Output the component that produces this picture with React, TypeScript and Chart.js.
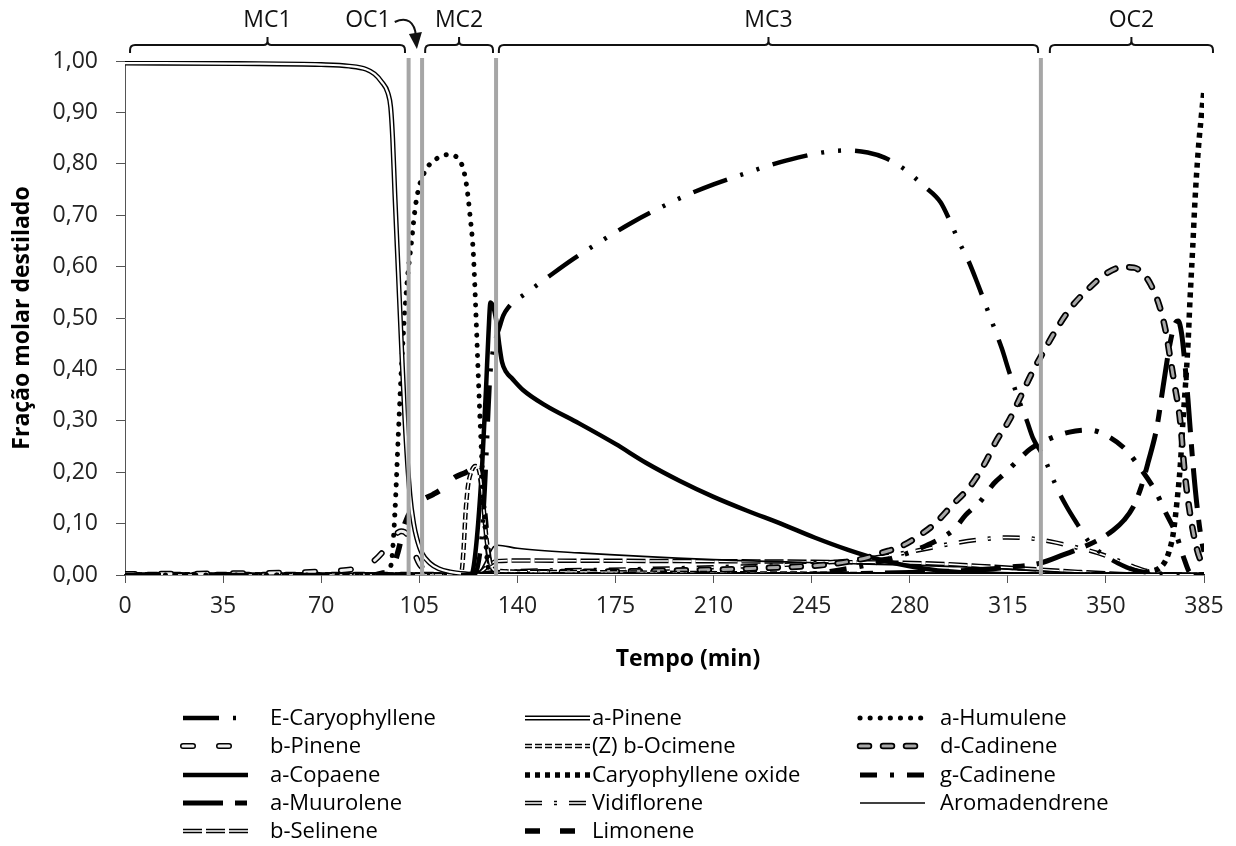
import React, { useEffect, useRef } from 'react';
import { Chart, registerables } from 'chart.js';

Chart.register(...registerables);

type Pt = [number, number];

// ---------- axes ----------
const xMin = 0;
const xMax = 385;
const xStep = 35;
const yMin = 0;
const yMax = 1;
const yStep = 0.1;

// ---------- cut boundaries (min) ----------
const cutTimes = [101.2, 106.0, 132.4, 326.8];
const bracketStart = [1.8, 107.1, 133.4, 330.0];
const bracketEnd = [99.9, 131.3, 325.8, 388.2];
const bracketLabels = ['MC1', 'MC2', 'MC3', 'OC2'];
const oc1Label = 'OC1';
const oc1LabelT = 86.7;
const oc1ArrowT = 103.8;

// ---------- series (time min, molar fraction) ----------
const eCaryophyllene: Pt[] = [[0, 0], [124.5, 0], [126, 0.02], [127.2, 0.07], [128.4, 0.17], [129.4, 0.29], [130.2, 0.38], [131.1, 0.43], [132.3, 0.46], [133.5, 0.48], [135, 0.505], [137, 0.522], [139, 0.533], [142, 0.544], [145, 0.556], [151, 0.58], [160, 0.615], [170, 0.65], [180, 0.683], [190, 0.712], [200, 0.738], [210, 0.76], [220, 0.779], [230, 0.797], [240, 0.812], [250, 0.823], [258, 0.826], [265, 0.822], [271, 0.812], [278, 0.79], [285, 0.757], [291, 0.725], [294.4, 0.688], [297.6, 0.648], [300.8, 0.613], [304, 0.57], [308, 0.512], [310.4, 0.477], [312.9, 0.44], [315.5, 0.395], [319.3, 0.335], [321.8, 0.3], [324, 0.266], [327.6, 0.232], [332.9, 0.165], [336.1, 0.132], [339.7, 0.1], [344.3, 0.062], [349, 0.04], [354.3, 0.023], [360, 0.01], [368, 0.003], [375, 0], [385, 0]];
const aPinene: Pt[] = [[0, 0.996], [40, 0.995], [70, 0.993], [80, 0.99], [86, 0.984], [89, 0.975], [91.5, 0.96], [93.8, 0.938], [94.8, 0.91], [95.5, 0.85], [96.3, 0.74], [97.5, 0.59], [98.7, 0.44], [99.9, 0.3], [101.7, 0.154], [103, 0.1], [104.1, 0.072], [106, 0.042], [108.8, 0.023], [112, 0.012], [116, 0.006], [122, 0.002], [128, 0], [385, 0]];
const aHumulene: Pt[] = [[0, 0], [93.5, 0], [94.5, 0.01], [95.3, 0.035], [96.3, 0.12], [97.5, 0.27], [98.7, 0.41], [100.5, 0.56], [102.3, 0.652], [103.5, 0.712], [104.7, 0.75], [107, 0.785], [111.2, 0.81], [115.4, 0.818], [118.9, 0.81], [120.7, 0.79], [121.9, 0.757], [123.1, 0.7], [124.3, 0.625], [125.2, 0.51], [126.1, 0.38], [127.3, 0.225], [128.5, 0.09], [129.2, 0.03], [130, 0.006], [131, 0], [385, 0]];
const bPinene: Pt[] = [[0, 0.002], [35, 0.003], [60, 0.005], [75, 0.008], [82, 0.012], [87, 0.02], [92, 0.045], [95.5, 0.072], [98.5, 0.085], [100.5, 0.08], [102, 0.06], [103.5, 0.04], [105, 0.022], [107, 0.01], [110, 0.003], [115, 0], [385, 0]];
const zOcimene: Pt[] = [[0, 0], [118, 0], [120, 0.005], [120.8, 0.05], [121.5, 0.12], [122.3, 0.17], [123.5, 0.2], [125, 0.212], [126.5, 0.2], [127.8, 0.14], [129, 0.07], [130.5, 0.02], [132.5, 0.008], [150, 0.006], [200, 0.004], [260, 0.002], [300, 0], [385, 0]];
const dCadinene: Pt[] = [[0, 0], [125, 0], [128, 0.002], [135, 0.004], [160, 0.006], [200, 0.009], [230, 0.014], [248, 0.019], [258, 0.026], [265, 0.034], [270, 0.043], [277, 0.056], [284, 0.079], [289, 0.1], [295, 0.135], [301.9, 0.175], [306.9, 0.218], [311.1, 0.263], [315.4, 0.3], [319.3, 0.344], [323.6, 0.393], [327.9, 0.436], [332.2, 0.477], [337.5, 0.52], [343.6, 0.556], [350, 0.586], [356, 0.599], [360, 0.598], [363.5, 0.585], [366, 0.565], [369.3, 0.52], [371.5, 0.47], [373, 0.42], [374.5, 0.37], [376.5, 0.3], [378, 0.205], [380, 0.12], [382.5, 0.05], [385, 0.012]];
const aCopaene: Pt[] = [[0, 0], [123.5, 0], [124.5, 0.02], [126, 0.1], [127.5, 0.22], [128.8, 0.36], [129.7, 0.47], [130.4, 0.53], [131.5, 0.52], [132.6, 0.49], [133.5, 0.45], [134.5, 0.415], [136, 0.395], [138, 0.383], [142, 0.36], [150, 0.33], [162, 0.295], [175, 0.255], [186, 0.218], [198, 0.183], [210, 0.152], [222, 0.125], [234, 0.1], [246, 0.073], [258, 0.049], [270, 0.029], [280, 0.017], [290, 0.009], [305, 0.004], [320, 0.001], [335, 0], [385, 0]];
const caryophylleneOxide: Pt[] = [[0, 0], [355, 0], [362, 0.003], [366, 0.007], [369, 0.013], [371, 0.025], [372.5, 0.045], [374, 0.08], [375.5, 0.15], [376.5, 0.21], [377.5, 0.3], [378.4, 0.37], [379.3, 0.45], [380, 0.535], [381, 0.64], [381.8, 0.73], [383, 0.83], [384, 0.89], [385, 0.945]];
const gCadinene: Pt[] = [[0, 0], [240, 0], [255, 0.01], [265, 0.02], [272, 0.03], [278, 0.04], [285, 0.055], [290, 0.068], [296, 0.09], [300, 0.117], [305, 0.142], [310, 0.178], [314, 0.198], [318, 0.22], [323, 0.245], [329, 0.263], [337, 0.278], [344, 0.282], [350, 0.272], [356.5, 0.247], [362, 0.21], [368, 0.16], [371, 0.125], [375, 0.08], [378, 0.03], [380, 0.005], [385, 0]];
const aMuurolene: Pt[] = [[0, 0], [200, 0], [250, 0.002], [280, 0.005], [300, 0.009], [315, 0.015], [326.5, 0.023], [334.7, 0.039], [340.8, 0.052], [346.5, 0.066], [352.6, 0.087], [356.5, 0.107], [359.7, 0.132], [362.5, 0.17], [365, 0.218], [368.2, 0.288], [370.4, 0.366], [372.9, 0.451], [374.6, 0.488], [375.8, 0.494], [377, 0.47], [378.2, 0.41], [379.3, 0.34], [381, 0.22], [382.8, 0.12], [384.3, 0.062], [385, 0.045]];
const vidiflorene: Pt[] = [[0, 0], [125, 0], [128, 0.003], [133, 0.006], [170, 0.01], [210, 0.015], [240, 0.021], [260, 0.029], [275, 0.04], [285, 0.05], [295, 0.061], [305, 0.069], [315, 0.073], [325, 0.07], [333, 0.062], [340, 0.053], [347, 0.043], [353, 0.031], [360, 0.016], [366, 0.006], [372, 0.001], [378, 0], [385, 0]];
const aromadendrene: Pt[] = [[0, 0], [125, 0], [127, 0.01], [129.5, 0.035], [131.5, 0.055], [133, 0.058], [140, 0.052], [162, 0.043], [210, 0.03], [260, 0.022], [298, 0.016], [320, 0.01], [340, 0.004], [360, 0.001], [370, 0], [385, 0]];
const bSelinene: Pt[] = [[0, 0], [125, 0], [127.5, 0.008], [130, 0.02], [132.5, 0.027], [140, 0.028], [200, 0.027], [260, 0.025], [290, 0.022], [310, 0.016], [325, 0.011], [340, 0.006], [355, 0.002], [365, 0], [385, 0]];
const limonene: Pt[] = [[0, 0], [88, 0], [92, 0.004], [95.3, 0.012], [97.4, 0.045], [99.9, 0.1], [102.4, 0.128], [106, 0.146], [110, 0.157], [113, 0.167], [117.7, 0.19], [121, 0.198], [124, 0.205], [126, 0.205], [127.5, 0.17], [128.7, 0.1], [129.8, 0.035], [131, 0.008], [133, 0], [385, 0]];

// ---------- styles ----------
interface SeriesStyle {
  name: string;
  data: Pt[];
  width: number;
  dash: number[];
  cap?: CanvasLineCap;
  inner?: { color: string; width: number };
}

const series: SeriesStyle[] = [
  { name: 'E-Caryophyllene', data: eCaryophyllene, width: 4.5, dash: [36, 14, 3, 14, 3, 14] },
  { name: 'a-Pinene', data: aPinene, width: 5, dash: [], inner: { color: '#ffffff', width: 2.2 } },
  { name: 'a-Humulene', data: aHumulene, width: 5, dash: [0.1, 10], cap: 'round' },
  { name: 'b-Pinene', data: bPinene, width: 6, dash: [10, 26], cap: 'round', inner: { color: '#f0f0f0', width: 3 } },
  { name: '(Z) b-Ocimene', data: zOcimene, width: 4.5, dash: [7, 3], inner: { color: '#ffffff', width: 1.6 } },
  { name: 'd-Cadinene', data: dCadinene, width: 6.5, dash: [9, 14], cap: 'round', inner: { color: '#a8a8a8', width: 3 } },
  { name: 'a-Copaene', data: aCopaene, width: 4.5, dash: [] },
  { name: 'Caryophyllene oxide', data: caryophylleneOxide, width: 5.5, dash: [5, 5] },
  { name: 'g-Cadinene', data: gCadinene, width: 5, dash: [17, 13, 4, 13] },
  { name: 'a-Muurolene', data: aMuurolene, width: 5, dash: [40, 12, 12, 12] },
  { name: 'Vidiflorene', data: vidiflorene, width: 4.5, dash: [17, 12, 3, 12], inner: { color: '#ffffff', width: 1.6 } },
  { name: 'Aromadendrene', data: aromadendrene, width: 1.6, dash: [] },
  { name: 'b-Selinene', data: bSelinene, width: 4.5, dash: [19, 4], inner: { color: '#ffffff', width: 1.6 } },
  { name: 'Limonene', data: limonene, width: 5.5, dash: [15, 20] },
];

const FONT = "'Open Sans', 'Noto Sans', sans-serif";

const fmt = (v: number) => v.toFixed(2).replace('.', ',');

const overlayPlugin = {
  id: 'overlay',
  afterDraw(chart: any) {
    const ctx: CanvasRenderingContext2D = chart.ctx;
    const xs = chart.scales.x;
    ctx.save();
    // brackets
    ctx.strokeStyle = '#111';
    ctx.lineWidth = 2;
    ctx.fillStyle = '#111';
    ctx.font = `23px ${FONT}`;
    ctx.textAlign = 'center';
    ctx.textBaseline = 'middle';
    bracketStart.forEach((a, i) => {
      const x1 = xs.getPixelForValue(a);
      const x2 = xs.getPixelForValue(bracketEnd[i]);
      const xm = (x1 + x2) / 2;
      ctx.beginPath();
      ctx.moveTo(x1, 53);
      ctx.lineTo(x1, 50);
      ctx.quadraticCurveTo(x1, 45, x1 + 5, 45);
      ctx.lineTo(xm - 4, 45);
      ctx.quadraticCurveTo(xm, 45, xm, 41);
      ctx.lineTo(xm, 37);
      ctx.moveTo(xm, 41);
      ctx.quadraticCurveTo(xm, 45, xm + 4, 45);
      ctx.lineTo(x2 - 5, 45);
      ctx.quadraticCurveTo(x2, 45, x2, 50);
      ctx.lineTo(x2, 53);
      ctx.stroke();
      ctx.fillText(bracketLabels[i], xm, 20);
    });
    // OC1 label + arrow
    const lx = xs.getPixelForValue(oc1LabelT);
    ctx.fillText(oc1Label, lx, 20);
    const w = ctx.measureText(oc1Label).width;
    const sx = lx + w / 2 + 4;
    const tx = xs.getPixelForValue(oc1ArrowT);
    ctx.beginPath();
    ctx.moveTo(sx, 22);
    ctx.bezierCurveTo(sx + 12, 16, tx - 1, 22, tx, 36);
    ctx.stroke();
    ctx.beginPath();
    ctx.moveTo(tx - 7, 34);
    ctx.lineTo(tx + 6, 32);
    ctx.lineTo(tx + 1, 49);
    ctx.closePath();
    ctx.fill();

    // x title
    ctx.font = `bold 23px ${FONT}`;
    ctx.fillStyle = '#000';
    ctx.fillText('Tempo (min)', 688, 659);

    // legend grid
    const colSym = [183, 525, 860];
    const colText = [270, 592, 940];
    const rowY = [718, 746, 775, 803, 831];
    const symLen = 65;
    ctx.font = `22px ${FONT}`;
    ctx.textAlign = 'left';
    series.forEach((s, i) => {
      const r = Math.floor(i / 3);
      const c = i % 3;
      const y = rowY[r];
      const x0 = colSym[c];
      const stroke = (color: string, width: number) => {
        ctx.save();
        ctx.beginPath();
        ctx.setLineDash(s.dash);
        ctx.lineCap = s.cap || 'butt';
        ctx.lineWidth = width;
        ctx.strokeStyle = color;
        ctx.moveTo(x0, y);
        ctx.lineTo(x0 + symLen, y);
        ctx.stroke();
        ctx.restore();
      };
      stroke('#000', s.width);
      if (s.inner) stroke(s.inner.color, s.inner.width);
      ctx.fillStyle = '#000';
      ctx.fillText(s.name, colText[c], y + 1);
    });
    ctx.restore();
  },
};

export default function App() {
  const ref = useRef<HTMLCanvasElement>(null);
  useEffect(() => {
    document.body.style.margin = '0';
    if (!ref.current) return;
    const datasets: any[] = [];
    cutTimes.forEach((t) => {
      datasets.push({
        label: '_cut',
        data: [{ x: t, y: 0 }, { x: t, y: 1.006 }],
        borderColor: '#a6a6a6',
        borderWidth: 4,
        pointRadius: 0,
        tension: 0,
        clip: false,
      });
    });
    series.forEach((s) => {
      const pts = s.data.map(([x, y]) => ({ x, y }));
      const common = {
        data: pts,
        pointRadius: 0,
        pointHoverRadius: 0,
        fill: false,
        borderDash: s.dash,
        borderCapStyle: s.cap || 'butt',
        borderJoinStyle: 'round',
        cubicInterpolationMode: 'monotone',
      };
      if (s.inner) {
        datasets.push({ ...common, label: s.name + ' (inner)', borderColor: s.inner.color, borderWidth: s.inner.width });
      }
      datasets.push({ ...common, label: s.name, borderColor: '#000', borderWidth: s.width });
    });

    const chart = new Chart(ref.current, {
      type: 'line',
      data: { datasets },
      options: {
        animation: false,
        responsive: false,
        devicePixelRatio: 1,
        events: [],
        layout: { padding: { top: 61, bottom: 171, left: 0, right: 32 } },
        plugins: { legend: { display: false }, tooltip: { enabled: false }, title: { display: false } },
        scales: {
          x: {
            type: 'linear',
            min: xMin,
            max: xMax,
            afterFit: (scale: any) => { scale.height = 100; },
            ticks: { stepSize: xStep, color: '#222', font: { family: FONT, size: 23 }, padding: 10, maxRotation: 0, autoSkip: false },
            grid: { display: true, drawOnChartArea: false, drawTicks: true, tickLength: 8, color: '#555' },
            border: { display: true, color: '#222', width: 1.5 },
          },
          y: {
            type: 'linear',
            min: yMin,
            max: yMax,
            afterFit: (scale: any) => { scale.width = 125; },
            ticks: { stepSize: yStep, color: '#222', font: { family: FONT, size: 23 }, padding: 18, callback: (v: any) => fmt(Number(v)) },
            grid: { display: true, drawOnChartArea: false, drawTicks: true, tickLength: 9, color: '#555' },
            border: { display: true, color: '#555', width: 1 },
            title: { display: true, text: 'Fração molar destilado', color: '#000', font: { family: FONT, size: 23, weight: 'bold' }, padding: { top: 9, bottom: 0 } },
          },
        },
      },
      plugins: [overlayPlugin],
    } as any);
    return () => chart.destroy();
  }, []);
  return (
    <div style={{ width: 1236, height: 846 }}>
      <canvas ref={ref} width={1236} height={846} />
    </div>
  );
}
